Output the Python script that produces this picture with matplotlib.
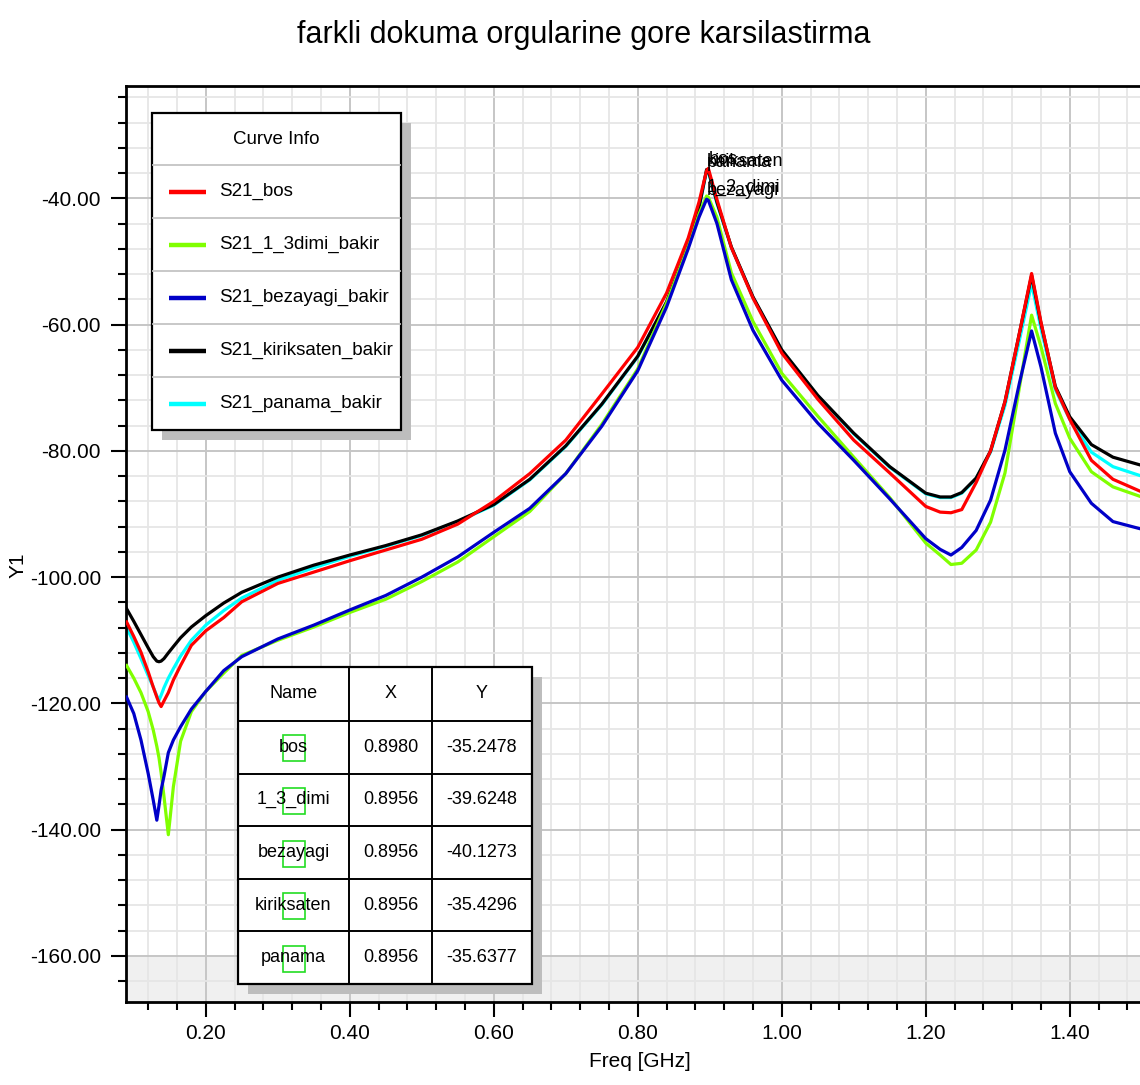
import matplotlib
matplotlib.use("Agg")
import matplotlib.pyplot as plt
from matplotlib.patches import Rectangle
from matplotlib.ticker import MultipleLocator, FormatStrFormatter

FONT = ["Liberation Sans", "DejaVu Sans"]
plt.rcParams["font.family"] = FONT

# ---- data -------------------------------------------------------------
freq = [0.09, 0.10, 0.11, 0.12, 0.127, 0.132, 0.135, 0.138, 0.142, 0.148,
        0.155, 0.165, 0.18, 0.20, 0.225, 0.25, 0.30, 0.35, 0.40, 0.45,
        0.50, 0.55, 0.60, 0.65, 0.70, 0.75, 0.80, 0.84, 0.87, 0.885,
        0.8956, 0.898, 0.91, 0.93, 0.96, 1.00, 1.05, 1.10, 1.15, 1.20,
        1.22, 1.235, 1.25, 1.27, 1.29, 1.31, 1.33, 1.347, 1.36, 1.38,
        1.40, 1.43, 1.46, 1.50]

s21_bos = [-107.1, -109.4, -111.9, -115.0, -117.4, -119.0, -119.9, -120.5, -119.6, -118.3,
           -116.3, -114.0, -110.8, -108.5, -106.4, -103.9, -101.0, -99.2, -97.4, -95.7,
           -94.0, -91.6, -88.0, -83.6, -78.3, -71.0, -63.6, -55.0, -46.3, -40.6,
           -35.6, -35.2478, -40.2, -47.8, -55.8, -64.5, -71.8, -78.3, -83.5, -88.8,
           -89.7, -89.8, -89.3, -85.0, -80.0, -72.2, -61.4, -51.9, -59.6, -70.0,
           -75.0, -81.5, -84.5, -86.5]

s21_1_3dimi = [-114.0, -116.0, -118.3, -121.3, -124.2, -126.8, -128.6, -131.0, -134.8, -140.8,
               -133.2, -126.0, -121.3, -118.1, -115.2, -112.4, -110.0, -107.9, -105.6, -103.5,
               -100.7, -97.6, -93.6, -89.6, -83.6, -75.8, -67.0, -56.6, -47.6, -42.5,
               -39.6248, -39.8, -43.0, -51.8, -59.5, -67.7, -74.5, -81.0, -87.4, -94.6,
               -96.5, -98.0, -97.8, -95.7, -91.3, -83.5, -70.0, -58.5, -63.5, -72.5,
               -78.0, -83.3, -85.7, -87.3]

s21_bezayagi = [-119.0, -121.6, -125.8, -131.1, -135.3, -138.5, -136.2, -133.7, -131.5, -127.8,
                -125.8, -123.7, -120.9, -118.1, -114.8, -112.6, -109.8, -107.6, -105.2, -102.9,
                -100.0, -96.8, -92.9, -89.1, -83.6, -76.1, -67.3, -57.2, -48.0, -43.0,
                -40.1273, -40.3, -44.0, -52.9, -60.9, -68.8, -75.6, -81.5, -87.6, -93.9,
                -95.6, -96.5, -95.3, -92.6, -87.8, -79.9, -69.3, -61.0, -66.7, -77.2,
                -83.3, -88.3, -91.2, -92.4]

s21_kiriksaten = [-105.0, -107.0, -109.1, -111.2, -112.6, -113.3, -113.4, -113.3, -112.9, -112.0,
                  -111.0, -109.6, -107.9, -106.1, -104.1, -102.4, -100.0, -98.1, -96.5, -95.0,
                  -93.3, -91.1, -88.5, -84.5, -79.2, -72.6, -65.0, -56.4, -47.5, -41.5,
                  -35.4296, -35.6, -40.6, -47.7, -55.6, -64.0, -71.2, -77.2, -82.5, -86.7,
                  -87.3, -87.3, -86.6, -84.3, -80.0, -72.2, -61.4, -52.2, -59.8, -69.8,
                  -74.6, -79.0, -81.0, -82.3]

s21_panama = [-108.0, -110.3, -112.9, -115.6, -117.4, -118.8, -119.5, -118.7, -117.5, -116.0,
              -114.5, -112.5, -110.0, -107.6, -105.3, -103.3, -100.5, -98.5, -96.7, -95.1,
              -93.4, -91.2, -88.6, -84.6, -79.3, -72.7, -65.1, -56.5, -47.6, -41.6,
              -35.6377, -35.8, -40.8, -47.8, -55.7, -64.1, -71.3, -77.3, -82.6, -86.8,
              -87.4, -87.4, -86.7, -84.4, -80.2, -72.8, -62.5, -53.5, -60.6, -70.3,
              -75.0, -80.2, -82.5, -84.0]

curve_names = ["S21_bos", "S21_1_3dimi_bakir", "S21_bezayagi_bakir",
               "S21_kiriksaten_bakir", "S21_panama_bakir"]
curve_colors = ["#ff0000", "#80ff00", "#0000c8", "#000000", "#00ffff"]
curve_values = [s21_bos, s21_1_3dimi, s21_bezayagi, s21_kiriksaten, s21_panama]
curve_zorder = [6, 4, 5, 3, 2]

marker_names = ["bos", "1_3_dimi", "bezayagi", "kiriksaten", "panama"]
marker_x = [0.8980, 0.8956, 0.8956, 0.8956, 0.8956]
marker_y = [-35.2478, -39.6248, -40.1273, -35.4296, -35.6377]

x_ticks = [0.20, 0.40, 0.60, 0.80, 1.00, 1.20, 1.40]
y_ticks = [-40.0, -60.0, -80.0, -100.0, -120.0, -140.0, -160.0]

# ---- figure -------------------------------------------------------------
W, H = 1140, 1085
fig = plt.figure(figsize=(W / 100, H / 100), dpi=100)
fig.patch.set_facecolor("white")

ax_l, ax_r, ax_t, ax_b = 126, 1154, 86, 1002
ax = fig.add_axes([ax_l / W, (H - ax_b) / H, (ax_r - ax_l) / W, (ax_b - ax_t) / H])
ax.set_xlim(0.0892, 1.517)
ax.set_ylim(-167.3, -22.2)

ax.axhspan(-167.3, -160.0, color="#f0f0f0", zorder=0, lw=0)

ax.xaxis.set_minor_locator(MultipleLocator(0.04))
ax.yaxis.set_minor_locator(MultipleLocator(4))
ax.set_xticks(x_ticks)
ax.set_yticks(y_ticks)
ax.xaxis.set_major_formatter(FormatStrFormatter("%.2f"))
ax.yaxis.set_major_formatter(FormatStrFormatter("%.2f"))

ax.grid(which="minor", color="#e6e6e6", lw=1.3, zorder=0)
ax.grid(which="major", color="#c6c6c6", lw=1.4, zorder=0)
ax.set_axisbelow(True)

ax.tick_params(which="major", direction="out", length=11, width=1.5,
               labelsize=15, color="black")
ax.tick_params(which="minor", direction="out", length=6, width=1.5, color="black")
ax.tick_params(axis="y", which="major", pad=7)
ax.tick_params(axis="x", which="major", pad=5)
for side in ("left", "top", "bottom"):
    ax.spines[side].set_linewidth(2.0)
ax.spines["right"].set_visible(False)

for name, col, vals, zo in zip(curve_names, curve_colors, curve_values, curve_zorder):
    ax.plot(freq, vals, color=col, lw=2.3, zorder=zo, solid_joinstyle="round")

# marker labels at the first resonance
for name, mx, my in zip(marker_names, marker_x, marker_y):
    ax.text(mx, my, name, fontsize=13, ha="left", va="bottom", color="black", zorder=8)

ax.set_xlabel("Freq [GHz]", fontsize=15, labelpad=6)
fig.text(18 / W, 1 - 565 / H, "Y1", rotation=90, fontsize=15, ha="center", va="center")
fig.text(584 / W, 1 - 35 / H, "farkli dokuma orgularine gore karsilastirma",
         fontsize=22, ha="center", va="center")

# ---- overlay in pixel coordinates for the info boxes ---------------------
ov = fig.add_axes([0, 0, 1, 1], zorder=10)
ov.set_xlim(0, W)
ov.set_ylim(H, 0)
ov.axis("off")

# curve info box
lx0, lx1, ly0, ly1 = 152, 401, 113, 430
ov.add_patch(Rectangle((lx0 + 10, ly0 + 10), lx1 - lx0, ly1 - ly0, fc="#bdbdbd", ec="none"))
ov.add_patch(Rectangle((lx0, ly0), lx1 - lx0, ly1 - ly0, fc="white", ec="black", lw=1.6))
head_h = 52
row_h = (ly1 - ly0 - head_h) / len(curve_names)
ov.text((lx0 + lx1) / 2, ly0 + head_h / 2, "Curve Info", fontsize=13.5, ha="center", va="center")
for i, (name, col) in enumerate(zip(curve_names, curve_colors)):
    top = ly0 + head_h + i * row_h
    ov.plot([lx0 + 1, lx1 - 1], [top, top], color="#c4c4c4", lw=1.3)
    yc = top + row_h / 2
    ov.plot([169, 206], [yc, yc], color=col, lw=3.2, solid_capstyle="butt")
    ov.text(219, yc, name, fontsize=13.5, ha="left", va="center")

# marker value table
tx = [238, 349, 432, 532]
ty0, ty1 = 667, 984
t_head = 54
t_row = (ty1 - ty0 - t_head) / len(marker_names)
ov.add_patch(Rectangle((tx[0] + 10, ty0 + 10), tx[-1] - tx[0], ty1 - ty0, fc="#bdbdbd", ec="none"))
ov.add_patch(Rectangle((tx[0], ty0), tx[-1] - tx[0], ty1 - ty0, fc="white", ec="black", lw=1.6))
for xv in tx[1:-1]:
    ov.plot([xv, xv], [ty0, ty1], color="black", lw=1.4)
for hdr, xa, xb in zip(["Name", "X", "Y"], tx[:-1], tx[1:]):
    ov.text((xa + xb) / 2, ty0 + t_head / 2, hdr, fontsize=13, ha="center", va="center")
for i, (name, mx, my) in enumerate(zip(marker_names, marker_x, marker_y)):
    top = ty0 + t_head + i * t_row
    ov.plot([tx[0], tx[-1]], [top, top], color="black", lw=1.4)
    yc = top + t_row / 2
    ov.text((tx[0] + tx[1]) / 2, yc, name, fontsize=13, ha="center", va="center")
    ov.text((tx[1] + tx[2]) / 2, yc, f"{mx:.4f}", fontsize=13, ha="center", va="center")
    ov.text((tx[2] + tx[3]) / 2, yc, f"{my:.4f}", fontsize=13, ha="center", va="center")
    # selection frame left in the name cell
    ov.add_patch(Rectangle((283, yc - 12), 22, 26, fc="none", ec="#22dd22", lw=1.2))

fig.savefig("out.png", dpi=100, facecolor="white")
